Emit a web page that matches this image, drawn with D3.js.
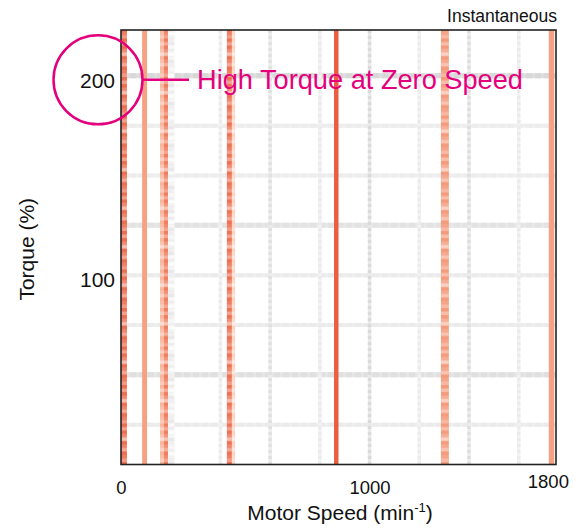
<!DOCTYPE html>
<html lang="en">
<head>
<meta charset="UTF-8">
<title>Torque vs Motor Speed</title>
<script src="https://d3js.org/d3.v7.min.js"></script>
<style>
  body { margin: 0; background: #fff; }
  text { font-family: "Liberation Sans", Arial, Helvetica, sans-serif; fill: #111; }
</style>
</head>
<body>
<svg width="579" height="528"></svg>
<script>
// torque map bands: centre speed (min^-1), band width (min^-1), intensity 0..1
const bandSpeeds = [12, 95, 165, 181, 436, 453, 866, 1303, 1732];
const bandWidths = [24, 20, 16, 16, 20, 12, 18, 32, 22];
const bandLevels = [0.85, 0.5, 0.35, 0.75, 0.82, 0.12, 0.95, 0.55, 0.5];

// reference grid (grey intensity 0..1)
const gridSpeeds = [200, 400, 600, 800, 1000, 1200, 1400, 1600];
const gridSpeedLevels = [0.35, 0.3, 0.55, 0.3, 0.7, 0.3, 0.6, 0.3];
const gridTorques = [25, 50, 75, 100, 125, 150, 175, 200];
const gridTorqueLevels = [0.3, 0.55, 0.3, 0.3, 0.5, 0.25, 0.25, 0.75];

const speedTicks = [0, 1000, 1800];
const torqueTicks = [100, 200];

const svg = d3.select("svg");
const pink = "#e4007d";

// plot box
const pLeft = 121, pRight = 556, pTop = 30, pBottom = 464.5;

const x = d3.scaleLinear().domain([0, 1750]).range([pLeft, pRight]);
const y = d3.scaleLinear().domain([5, 223]).range([pBottom, pTop]);

const grey = d3.interpolateRgb("#f8f8f8", "#cdcdcd");
const heat = d3.scaleLinear()
  .domain([0, 0.5, 1])
  .range(["#fde3d5", "#f4a283", "#e9573a"]);

// mottled texture used on the noisy bands
const defs = svg.append("defs");
const mottle = defs.append("pattern")
  .attr("id", "mottle")
  .attr("patternUnits", "userSpaceOnUse")
  .attr("width", 40).attr("height", 38.5);
[0, 0.35, 0, 0.2, 0.55, 0, 0.15, 0.4, 0, 0.1, 0.3].forEach((o, i) => {
  mottle.append("rect")
    .attr("x", 0).attr("y", i * 3.5)
    .attr("width", 40).attr("height", 3.5)
    .attr("fill", "#fff").attr("fill-opacity", o);
});
const greyMottle = defs.append("pattern")
  .attr("id", "greyMottle")
  .attr("patternUnits", "userSpaceOnUse")
  .attr("width", 40).attr("height", 21);
[0, 0.6, 0.2, 0.8, 0.4, 0].forEach((o, i) => {
  greyMottle.append("rect")
    .attr("x", 0).attr("y", i * 3.5)
    .attr("width", 40).attr("height", 3.5)
    .attr("fill", "#fff").attr("fill-opacity", o);
});

const plot = svg.append("g");

// horizontal grid
const hGrid = plot.append("g");
gridTorques.forEach((t, i) => {
  const lv = gridTorqueLevels[i];
  const w = lv > 0.45 ? 5 : 4;
  hGrid.append("line")
    .attr("x1", pLeft).attr("x2", pRight)
    .attr("y1", y(t)).attr("y2", y(t))
    .attr("stroke", grey(lv * 0.8)).attr("stroke-width", w);
  hGrid.append("line")
    .attr("x1", pLeft).attr("x2", pRight)
    .attr("y1", y(t)).attr("y2", y(t))
    .attr("stroke", grey(lv)).attr("stroke-width", w)
    .attr("stroke-dasharray", "6,3");
});

// vertical grid
const vGrid = plot.append("g");
gridSpeeds.forEach((s, i) => {
  const lv = gridSpeedLevels[i];
  const w = s === 200 ? 7 : 3.5;
  vGrid.append("line")
    .attr("x1", x(s)).attr("x2", x(s))
    .attr("y1", pTop).attr("y2", pBottom)
    .attr("stroke", grey(lv * 0.5)).attr("stroke-width", w);
  vGrid.append("line")
    .attr("x1", x(s)).attr("x2", x(s))
    .attr("y1", pTop).attr("y2", pBottom)
    .attr("stroke", grey(lv)).attr("stroke-width", w)
    .attr("stroke-dasharray", "3,3");
  if (s === 200) {
    vGrid.append("rect")
      .attr("x", x(s) - w / 2).attr("y", pTop)
      .attr("width", w).attr("height", pBottom - pTop)
      .attr("fill", "url(#greyMottle)");
  }
});

// torque bands
const noisy = new Set([0, 2, 3, 4, 5, 7]);
const bands = bandSpeeds.map((s, i) => ({ s, w: bandWidths[i], lv: bandLevels[i], i }));
const bandG = plot.append("g");
bandG.selectAll("rect.band")
  .data(bands)
  .join("rect")
  .attr("class", "band")
  .attr("x", d => x(d.s - d.w / 2))
  .attr("y", pTop)
  .attr("width", d => x(d.s + d.w / 2) - x(d.s - d.w / 2))
  .attr("height", pBottom - pTop)
  .attr("fill", d => heat(d.lv));
bandG.selectAll("rect.noise")
  .data(bands.filter(d => noisy.has(d.i)))
  .join("rect")
  .attr("class", "noise")
  .attr("x", d => x(d.s - d.w / 2))
  .attr("y", pTop)
  .attr("width", d => x(d.s + d.w / 2) - x(d.s - d.w / 2))
  .attr("height", pBottom - pTop)
  .attr("fill", "url(#mottle)");

// frame
svg.append("rect")
  .attr("x", pLeft).attr("y", pTop)
  .attr("width", pRight - pLeft).attr("height", pBottom - pTop)
  .attr("fill", "none")
  .attr("stroke", "#222").attr("stroke-width", 1.6);

// axes
const xAxis = svg.append("g")
  .attr("transform", `translate(0,${pBottom})`)
  .call(d3.axisBottom(x).tickValues(speedTicks).tickFormat(d3.format("d"))
    .tickSize(0).tickPadding(16));
xAxis.select(".domain").remove();
xAxis.selectAll("text")
  .style("font-size", "18.5px")
  .attr("fill", "#111")
  .attr("text-anchor", d => d === 1800 ? "end" : "middle")
  .attr("dy", d => d === 1800 ? "0.42em" : "0.71em");

const yAxis = svg.append("g")
  .attr("transform", `translate(${pLeft},0)`)
  .call(d3.axisLeft(y).tickValues(torqueTicks).tickSize(0).tickPadding(6));
yAxis.select(".domain").remove();
yAxis.selectAll("text")
  .style("font-size", "21px")
  .attr("fill", "#111")
  .attr("dy", "0.56em");

// axis titles
svg.append("text")
  .attr("transform", `translate(34,${(pTop + pBottom) / 2 + 2}) rotate(-90)`)
  .attr("text-anchor", "middle")
  .style("font-size", "21px")
  .text("Torque (%)");

const xt = svg.append("text")
  .attr("x", 340).attr("y", 520)
  .attr("text-anchor", "middle")
  .style("font-size", "21px");
xt.append("tspan").text("Motor Speed (min");
xt.append("tspan").attr("dy", -8).style("font-size", "13px").text("-1");
xt.append("tspan").attr("dy", 8).text(")");

svg.append("text")
  .attr("x", pRight + 1).attr("y", 22)
  .attr("text-anchor", "end")
  .style("font-size", "17.5px")
  .text("Instantaneous");

// annotation at the 200 % label
const ay = y(200) + 4;
svg.append("circle")
  .attr("cx", 98).attr("cy", ay).attr("r", 44.5)
  .attr("fill", "none").attr("stroke", pink).attr("stroke-width", 2.5);
svg.append("line")
  .attr("x1", 142.5).attr("x2", 189)
  .attr("y1", ay).attr("y2", ay)
  .attr("stroke", pink).attr("stroke-width", 2.5);
svg.append("text")
  .attr("x", 197).attr("y", ay + 9.5)
  .style("font-size", "27.2px")
  .style("fill", pink)
  .text("High Torque at Zero Speed");
</script>
</body>
</html>
